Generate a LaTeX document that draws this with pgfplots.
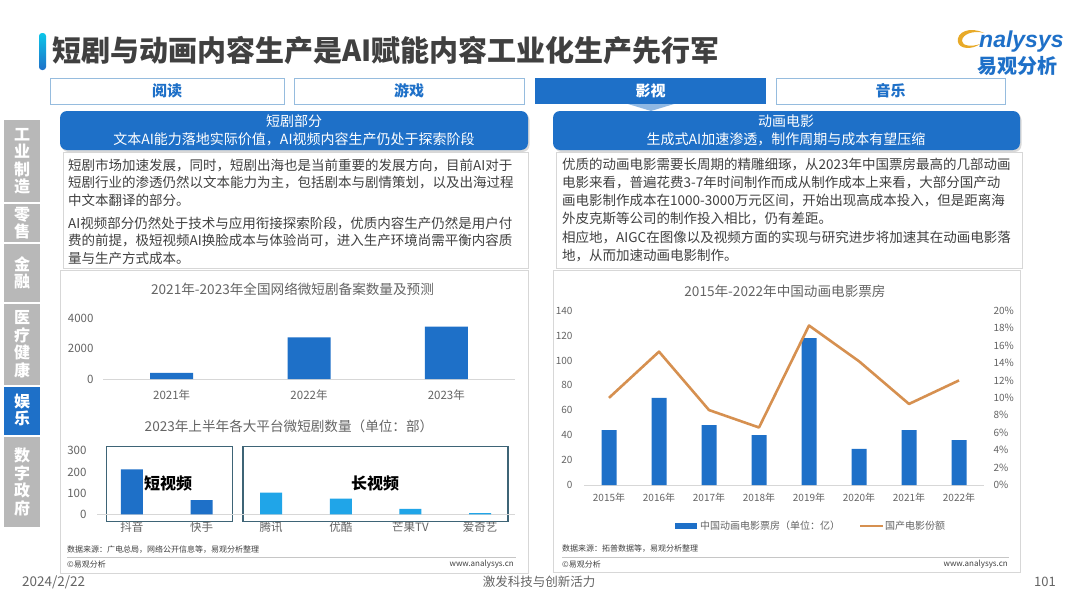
\documentclass[border=0pt]{standalone}
\usepackage{fontspec}
\setmainfont{Noto Sans CJK SC}
\newfontfamily\logofont{Liberation Sans}
\usepackage{pgfplots}
\pgfplotsset{compat=1.18}
\usetikzlibrary{shadows}

\definecolor{mainblue}{RGB}{30,112,200}
\definecolor{lightblue}{RGB}{32,165,232}
\definecolor{tabborder}{RGB}{150,188,222}
\definecolor{txtgray}{RGB}{64,64,64}
\definecolor{axgray}{RGB}{100,100,100}
\definecolor{linegray}{RGB}{215,215,215}
\definecolor{sidegray}{RGB}{184,184,184}
\definecolor{orangeline}{RGB}{214,144,80}
\definecolor{boxedge}{RGB}{62,100,118}
\definecolor{logoorange}{RGB}{232,170,40}

\newcommand{\fs}[2]{\fontsize{#1bp}{#2bp}\selectfont}

\pgfplotsset{
  slide/.style={
    scale only axis, anchor=south west, clip=false,
    ybar, major tick length=0,
    axis x line*=bottom, axis y line*=left,
    y axis line style={draw=none},
    x axis line style={linegray, line width=0.8bp},
    tick label style={text=axgray},
    /pgf/number format/assume math mode=true,
    /pgf/number format/1000 sep={},
    scaled y ticks=false,
  }
}

\begin{document}
\begin{tikzpicture}
\useasboundingbox (0,0) rectangle (1080bp,-608bp);
\fill[white] (0,0) rectangle (1080bp,-608bp);

\begin{scope}[x=1bp,y=-1bp]
% title
\shade[top color=cyan!60!mainblue, bottom color=mainblue, rounded corners=3bp] (39,33) rectangle (46,70);
\node[anchor=west, inner sep=0, font=\fs{29}{34}\bfseries, text=txtgray] at (52,50)
  {短剧与动画内容生产是AI赋能内容工业化生产先行军};

% logo
\fill[logoorange] (984,33) .. controls (970,26) and (956,32) .. (958,42)
  .. controls (959,49) and (972,50) .. (980,44)
  .. controls (972,47) and (962,46) .. (962,41)
  .. controls (962,34) and (974,30) .. (984,33) -- cycle;
\node[anchor=west, inner sep=0, font=\logofont\bfseries\itshape\fs{23}{24}, text=mainblue] at (979,42) {nalysys};
\node[inner sep=0, font=\fs{20}{21}\bfseries, text=mainblue] at (1017,66) {易观分析};

% tabs
\foreach \xa/\xb/\lab in {50/284/阅读, 294/524/游戏, 776/1005/音乐}{
  \draw[tabborder, fill=white, line width=0.8bp] (\xa,78) rectangle (\xb,104);
  \node[text=mainblue, font=\fs{15}{16}\bfseries] at ({(\xa+\xb)/2},91) {\lab};
}
\fill[mainblue] (535,78) rectangle (766,104);
\node[text=white, font=\fs{15}{16}\bfseries] at (650.5,91) {影视};
\fill[mainblue!50] (628,104) -- (674,104) -- (651,111) -- cycle;

% blue header boxes
\fill[mainblue, rounded corners=7bp, drop shadow={opacity=0.3, shadow xshift=1.5bp, shadow yshift=-2bp}] (60,111) rectangle (528,150);
\fill[mainblue, rounded corners=7bp, drop shadow={opacity=0.3, shadow xshift=1.5bp, shadow yshift=-2bp}] (553,111) rectangle (1020,150);
\begin{scope}[every node/.style={text=white, font=\fs{14}{16}, inner sep=0}]
\node at (294,121) {短剧部分};
\node at (294,139) {文本AI能力落地实际价值，AI视频内容生产仍处于探索阶段};
\node at (786,121) {动画电影};
\node at (786,139) {生成式AI加速渗透，制作周期与成本有望压缩};
\end{scope}

% text boxes
\draw[linegray, fill=white, line width=0.8bp] (63,152) rectangle (528,268);
\draw[linegray, fill=white, line width=0.8bp] (556,152) rectangle (1022,268);
\begin{scope}[every node/.style={anchor=west, inner sep=0, text=txtgray, font=\fs{13.5}{15}}]
\node at (68,165) {短剧市场加速发展，同时，短剧出海也是当前重要的发展方向，目前AI对于};
\node at (68,182.5) {短剧行业的渗透仍然以文本能力为主，包括剧本与剧情策划，以及出海过程};
\node at (68,200) {中文本翻译的部分。};
\node at (68,223) {AI视频部分仍然处于技术与应用衔接探索阶段，优质内容生产仍然是用户付};
\node at (68,240.5) {费的前提，极短视频AI换脸成本与体验尚可，进入生产环境尚需平衡内容质};
\node at (68,258) {量与生产方式成本。};
\node at (562,165) {优质的动画电影需要长周期的精雕细琢，从2023年中国票房最高的几部动画};
\node at (562,183) {电影来看，普遍花费3-7年时间制作而成从制作成本上来看，大部分国产动};
\node at (562,200.5) {画电影制作成本在1000-3000万元区间，开始出现高成本投入，但是距离海};
\node at (562,218.5) {外皮克斯等公司的制作投入相比，仍有差距。};
\node at (562,237.5) {相应地，AIGC在图像以及视频方面的实现与研究进步将加速其在动画电影落};
\node at (562,255.5) {地，从而加速动画电影制作。};
\end{scope}

% chart panels
\draw[linegray, line width=0.8bp] (60,270) rectangle (528,573);
\draw[linegray, line width=0.8bp] (553,270) rectangle (1020,572);
\begin{scope}[every node/.style={inner sep=0, text=axgray, font=\fs{13.6}{15}}]
\node at (292.5,289.5) {2021年-2023年全国网络微短剧备案数量及预测};
\node at (289,426.5) {2023年上半年各大平台微短剧数量（单位：部）};
\node at (785,291.5) {2015年-2022年中国动画电影票房};
\end{scope}

% group frames in the platform chart
\draw[boxedge, line width=1.1bp] (106.7,446.7) rectangle (232.7,521.7);
\draw[boxedge, line width=1.1bp] (243,446.7) rectangle (508,521.7);
\node[inner sep=0, font=\fs{16}{17}\bfseries, text=black] at (168,483) {短视频};
\node[inner sep=0, font=\fs{16}{17}\bfseries, text=black] at (375,483) {长视频};

% legend of the box office chart
\fill[mainblue] (675,523) rectangle (697,529);
\node[anchor=west, inner sep=0, font=\fs{10}{11}, text=axgray] at (700,526) {中国动画电影票房（单位：亿）};
\draw[orangeline, line width=2.5bp] (860,526) -- (883,526);
\node[anchor=west, inner sep=0, font=\fs{10}{11}, text=axgray] at (885,526) {国产电影份额};

% sources
\begin{scope}[every node/.style={anchor=west, inner sep=0, text=txtgray, font=\fs{8}{9}}]
\node at (67,550) {数据来源：广电总局，网络公开信息等，易观分析整理};
\node at (67,564.5) {©易观分析};
\node[anchor=east] at (514,564.5) {www.analysys.cn};
\node at (562,549) {数据来源：拓普数据等，易观分析整理};
\node at (562,564.5) {©易观分析};
\node[anchor=east] at (1008,564.5) {www.analysys.cn};
\end{scope}
\draw[gray!45, line width=0.6bp] (67,557) -- (516,557);
\draw[gray!45, line width=0.6bp] (562,557.5) -- (1009,557.5);

% sidebar
\foreach \ya/\yb/\lab in {120/202/{工\\业\\制\\造}, 204/242/{零\\售}, 244/302/{金\\融},
    304/385/{医\\疗\\健\\康}, 437/527/{数\\字\\政\\府}}{
  \fill[sidegray] (4,\ya) rectangle (40,\yb);
  \node[align=center, text=white, font=\fs{16}{17.5}\bfseries, inner sep=0] at (22,{(\ya+\yb)/2}) {\lab};
}
\fill[mainblue] (4,387) rectangle (40,435);
\node[align=center, text=white, font=\fs{16}{17.5}\bfseries, inner sep=0] at (22,410) {娱\\乐};

% footer
\node[anchor=west, inner sep=0, text=axgray, font=\fs{13.5}{15}] at (22,582) {2024/2/22};
\node[inner sep=0, text=axgray, font=\fs{12.5}{14}] at (539,582) {激发科技与创新活力};
\node[inner sep=0, text=axgray, font=\fs{13}{14}] at (1045,582) {101};
\end{scope}

% chart 1: filings
\begin{axis}[slide,
  at={(103bp,-379bp)}, width=412bp, height=60.7bp,
  xmin=-0.5, xmax=2.5, ymin=0, ymax=4000,
  bar width=43bp,
  ytick={0,2000,4000}, xtick={0,1,2},
  xticklabels={2021年,2022年,2023年},
  tick label style={font=\fs{11.5}{12}},
  yticklabel style={xshift=-6bp},
  xticklabel style={yshift=-7bp},
]
\addplot[fill=mainblue, draw=none] coordinates {(0,398) (1,2750) (2,3450)};
\end{axis}

% chart 2: platforms
\begin{axis}[slide,
  at={(97bp,-514.3bp)}, width=418bp, height=63.6bp,
  xmin=-0.5, xmax=5.5, ymin=0, ymax=300,
  bar width=22bp,
  ytick={0,100,200,300}, xtick={0,...,5},
  xticklabels={抖音,快手,腾讯,优酷,芒果TV,爱奇艺},
  tick label style={font=\fs{11.5}{12}},
  yticklabel style={xshift=-7bp},
  xticklabel style={yshift=-4bp},
]
\addplot[fill=mainblue, draw=none, bar shift=0pt] coordinates {(0,212) (1,67)};
\addplot[fill=lightblue, draw=none, bar shift=0pt] coordinates {(2,102) (3,74) (4,26) (5,6)};
\end{axis}

% chart 3: box office (bars)
\begin{axis}[slide,
  at={(584bp,-485bp)}, width=400bp, height=174.3bp,
  xmin=-0.5, xmax=7.5, ymin=0, ymax=140,
  bar width=15bp,
  ytick={0,20,...,140}, xtick={0,...,7},
  xticklabels={2015年,2016年,2017年,2018年,2019年,2020年,2021年,2022年},
  tick label style={font=\fs{10}{11}},
  yticklabel style={xshift=-8bp},
  xticklabel style={yshift=-5bp},
]
\addplot[fill=mainblue, draw=none] coordinates {(0,44) (1,70) (2,48) (3,40) (4,118) (5,29) (6,44) (7,36)};
\end{axis}

% chart 3: share (line)
\begin{axis}[
  scale only axis, anchor=south west, clip=false,
  at={(584bp,-485bp)}, width=400bp, height=174.3bp,
  xmin=-0.5, xmax=7.5, ymin=0, ymax=20,
  axis x line=none, axis y line*=right,
  y axis line style={draw=none}, major tick length=0,
  ytick={0,2,...,20},
  yticklabel={\pgfmathprintnumber{\tick}\%},
  yticklabel style={anchor=west, xshift=6bp, text=axgray, font=\fs{10}{11}},
  /pgf/number format/assume math mode=true,
]
\addplot[orangeline, line width=2.6bp, line join=round] coordinates {(0,10.0) (1,15.3) (2,8.6) (3,6.6) (4,18.3) (5,14.2) (6,9.3) (7,12.0)};
\end{axis}
\end{tikzpicture}
\end{document}
